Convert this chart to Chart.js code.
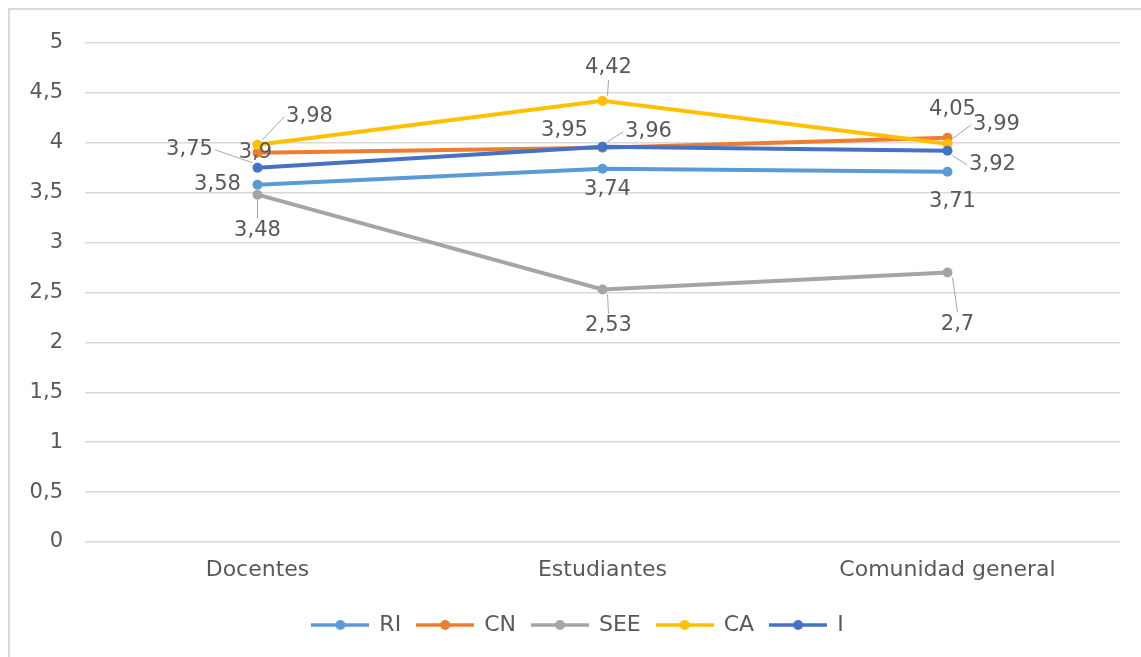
<!DOCTYPE html>
<html>
<head>
<meta charset="utf-8">
<script src="https://cdn.jsdelivr.net/npm/chart.js@4.4.1/dist/chart.umd.min.js"></script>
<style>
  html, body { margin: 0; padding: 0; background: #ffffff; overflow: hidden; }
  #wrap { position: relative; width: 1141px; height: 657px; overflow: hidden; }
  #c { position: absolute; left: 0; top: 0; }
  .bl { position: absolute; left: 8px; top: 8px; width: 2px; height: 649px; background: #d9d9d9; }
  .bt { position: absolute; left: 8px; top: 8px; width: 1133px; height: 2px; background: #d9d9d9; }
</style>
</head>
<body>
<div id="wrap">
  <canvas id="c" width="1141" height="657"></canvas>
  <div class="bl"></div>
  <div class="bt"></div>
</div>
<script>
// ---- Data ----
const categories = ["Docentes", "Estudiantes", "Comunidad general"];
const seriesNames = ["RI", "CN", "SEE", "CA", "I"];
const RI  = [3.58, 3.74, 3.71];
const CN  = [3.9, 3.95, 4.05];
const SEE = [3.48, 2.53, 2.7];
const CA  = [3.98, 4.42, 3.99];
const I   = [3.75, 3.96, 3.92];
const yTicks = [0, 0.5, 1, 1.5, 2, 2.5, 3, 3.5, 4, 4.5, 5];

// ---- Styles ----
const colors = ["#5B9BD5", "#ED7D31", "#A5A5A5", "#FFC000", "#4472C4"];
const drawOrder = [4, 3, 2, 1, 0]; // I drawn on top, like the original
const FONT = "'DejaVu Sans', sans-serif";
const TEXT = "#595959";

// Label placement (offsets in px from each point, + optional leader line)
const labelOffsets = [
  [[-40, 0, false], [5, 21, false], [5, 30, false]],        // RI
  [[-2, 0, false], [-38, -17, false], [5, -28, false]],     // CN
  [[0, 36, true], [6, 36, true], [10, 52, true]],           // SEE
  [[52, -28, true], [6, -33, true], [49, -19, true]],       // CA
  [[-68, -18, true], [46, -15, true], [45, 14, true]]       // I
];

const allSeries = [RI, CN, SEE, CA, I];

function legendImage(color) {
  const cv = document.createElement('canvas');
  cv.width = 58; cv.height = 14;
  const g = cv.getContext('2d');
  g.strokeStyle = color; g.lineWidth = 3.5;
  g.beginPath(); g.moveTo(0, 7); g.lineTo(58, 7); g.stroke();
  g.fillStyle = color;
  g.beginPath(); g.arc(29, 7, 5, 0, Math.PI * 2); g.fill();
  return cv;
}
const legendImgs = colors.map(legendImage);

const datasets = seriesNames.map((name, i) => ({
  label: name,
  data: allSeries[i],
  borderColor: colors[i],
  backgroundColor: colors[i],
  borderWidth: 4,
  pointRadius: 5,
  pointHoverRadius: 5,
  pointBorderWidth: 0,
  tension: 0,
  order: drawOrder[i]
}));

const dataLabels = {
  id: 'dataLabels',
  afterLayout(chart) {
    const lg = chart.legend;
    if (lg) { lg.left += 14; lg.right += 14; }
  },
  afterDatasetsDraw(chart) {
    const ctx = chart.ctx;
    ctx.save();
    ctx.font = "21px " + FONT;
    ctx.fillStyle = TEXT;
    ctx.textAlign = 'center';
    ctx.textBaseline = 'middle';
    chart.data.datasets.forEach((ds, di) => {
      const meta = chart.getDatasetMeta(di);
      meta.data.forEach((pt, pi) => {
        const [dx, dy, leader] = labelOffsets[di][pi];
        const lx = pt.x + dx, ly = pt.y + dy;
        const txt = String(ds.data[pi]).replace('.', ',');
        if (leader) {
          const w = ctx.measureText(txt).width;
          ctx.strokeStyle = "#a6a6a6";
          ctx.lineWidth = 1;
          ctx.beginPath();
          let ex, ey;
          if (Math.abs(dx) > w / 2 + 4) {
            ex = dx > 0 ? lx - w / 2 - 2 : lx + w / 2 + 2;
            ey = ly;
          } else {
            ex = lx;
            ey = dy > 0 ? ly - 12 : ly + 12;
          }
          const sx = pt.x + Math.sign(ex - pt.x) * 5;
          const sy = pt.y + Math.sign(ey - pt.y) * 5;
          ctx.moveTo(sx, sy);
          ctx.lineTo(ex, ey);
          ctx.stroke();
        }
        ctx.fillText(txt, lx, ly);
      });
    });
    ctx.restore();
  }
};

new Chart(document.getElementById('c'), {
  type: 'line',
  data: { labels: categories, datasets },
  plugins: [dataLabels],
  options: {
    responsive: false,
    animation: false,
    devicePixelRatio: 1,
    layout: { padding: { left: 8, right: 21, top: 43, bottom: 11 } },
    scales: {
      x: {
        offset: true,
        grid: { display: false, drawTicks: false },
        border: { display: false },
        ticks: { color: TEXT, font: { family: FONT, size: 22 }, padding: 15, maxRotation: 0 },
        afterFit(s) { s.height = 56; }
      },
      y: {
        min: 0, max: 5,
        afterBuildTicks(s) { s.ticks = yTicks.map(v => ({ value: v })); },
        grid: { color: "#d9d9d9", lineWidth: 1.5, drawTicks: false },
        border: { display: false },
        ticks: {
          color: TEXT, font: { family: FONT, size: 21 }, padding: 22,
          callback: v => String(v).replace('.', ',')
        },
        afterFit(s) { s.width = 77; }
      }
    },
    plugins: {
      tooltip: { enabled: false },
      legend: {
        position: 'bottom',
        labels: {
          usePointStyle: true,
          pointStyleWidth: 56,
          padding: 16,
          color: TEXT,
          font: { family: FONT, size: 22 },
          generateLabels(chart) {
            return chart.data.datasets.map((ds, i) => ({
              text: ds.label,
              pointStyle: legendImgs[i],
              fillStyle: colors[i],
              strokeStyle: colors[i],
              lineWidth: 0,
              fontColor: TEXT,
              hidden: false,
              datasetIndex: i
            }));
          }
        }
      }
    }
  }
});
</script>
</body>
</html>
